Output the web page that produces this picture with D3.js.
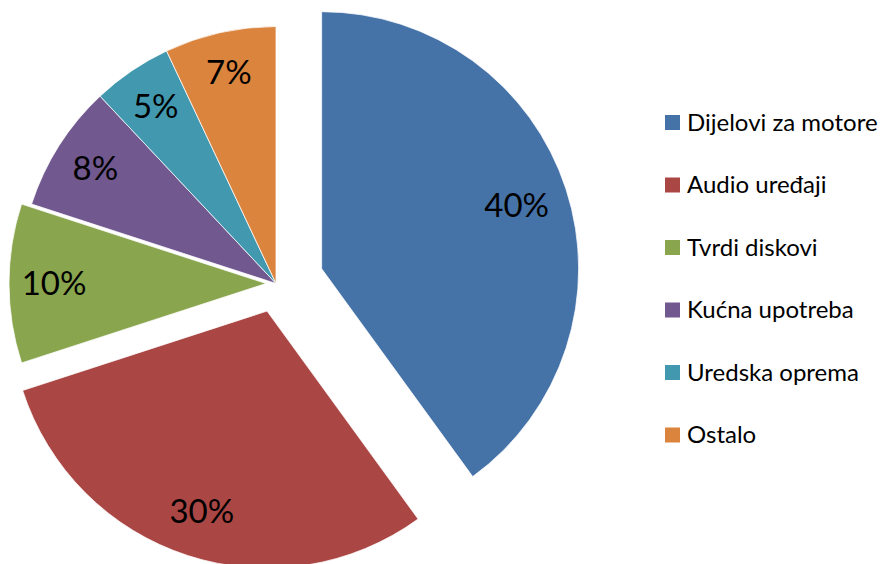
<!DOCTYPE html>
<html lang="hr">
<head>
    <meta charset="UTF-8">
    <title>Pie chart</title>
    <script src="https://d3js.org/d3.v7.min.js"></script>
    <style>
        body { margin: 0; background: #fff; }
        svg { display: block; font-family: Lato, "Open Sans", sans-serif; }
        .pct-label { font-size: 33px; fill: #000; text-anchor: middle; }
        .legend-text { font-size: 24px; fill: #000; }
    </style>
</head>
<body>
    <script>
        var w = 885;
        var h = 564;

        var categories = ["Dijelovi za motore", "Audio uređaji", "Tvrdi diskovi", "Kućna upotreba", "Uredska oprema", "Ostalo"];
        var values = [40, 30, 10, 8, 5, 7];
        var labels = ["40%", "30%", "10%", "8%", "5%", "7%"];
        var colors = ["#4572A7", "#AA4643", "#89A54E", "#71588F", "#4198AF", "#DB843D"];

        // how far each slice is pulled out from the centre (px)
        var explode = [48, 29, 10, 0, 0, 0];
        // distance of the % label from the slice tip
        var labelRadius = [205, 211, 212, 214, 214, 216];

        var cx = 276, cy = 283.5, r = 257;

        var svg = d3.select("body")
            .append("svg")
            .attr("width", w)
            .attr("height", h);

        var pie = d3.pie().sort(null).value(function (d) { return d; });
        var arcs = pie(values);

        var arc = d3.arc().innerRadius(0).outerRadius(r);

        function offset(d, i) {
            var a = (d.startAngle + d.endAngle) / 2;
            return [Math.sin(a) * explode[i], -Math.cos(a) * explode[i]];
        }

        var slices = svg.append("g")
            .attr("transform", "translate(" + cx + "," + cy + ")")
            .selectAll("g")
            .data(arcs)
            .enter()
            .append("g")
            .attr("transform", function (d, i) {
                var o = offset(d, i);
                return "translate(" + o[0] + "," + o[1] + ")";
            });

        slices.append("path")
            .attr("d", arc)
            .attr("fill", function (d, i) { return colors[i]; })
            .attr("stroke", "#fff")
            .attr("stroke-width", 0.75);

        slices.append("text")
            .attr("class", "pct-label")
            .attr("transform", function (d, i) {
                var c = d3.arc().innerRadius(labelRadius[i]).outerRadius(labelRadius[i]).centroid(d);
                return "translate(" + c[0] + "," + c[1] + ")";
            })
            .attr("dy", "0.35em")
            .text(function (d, i) { return labels[i]; });

        var legend = svg.append("g")
            .selectAll("g")
            .data(categories)
            .enter()
            .append("g")
            .attr("transform", function (d, i) {
                return "translate(665," + (115 + i * 62.5) + ")";
            });

        legend.append("rect")
            .attr("width", 15)
            .attr("height", 15)
            .attr("fill", function (d, i) { return colors[i]; });

        legend.append("text")
            .attr("class", "legend-text")
            .attr("x", 22)
            .attr("y", 15.5)
            .text(function (d) { return d; });
    </script>
</body>
</html>
